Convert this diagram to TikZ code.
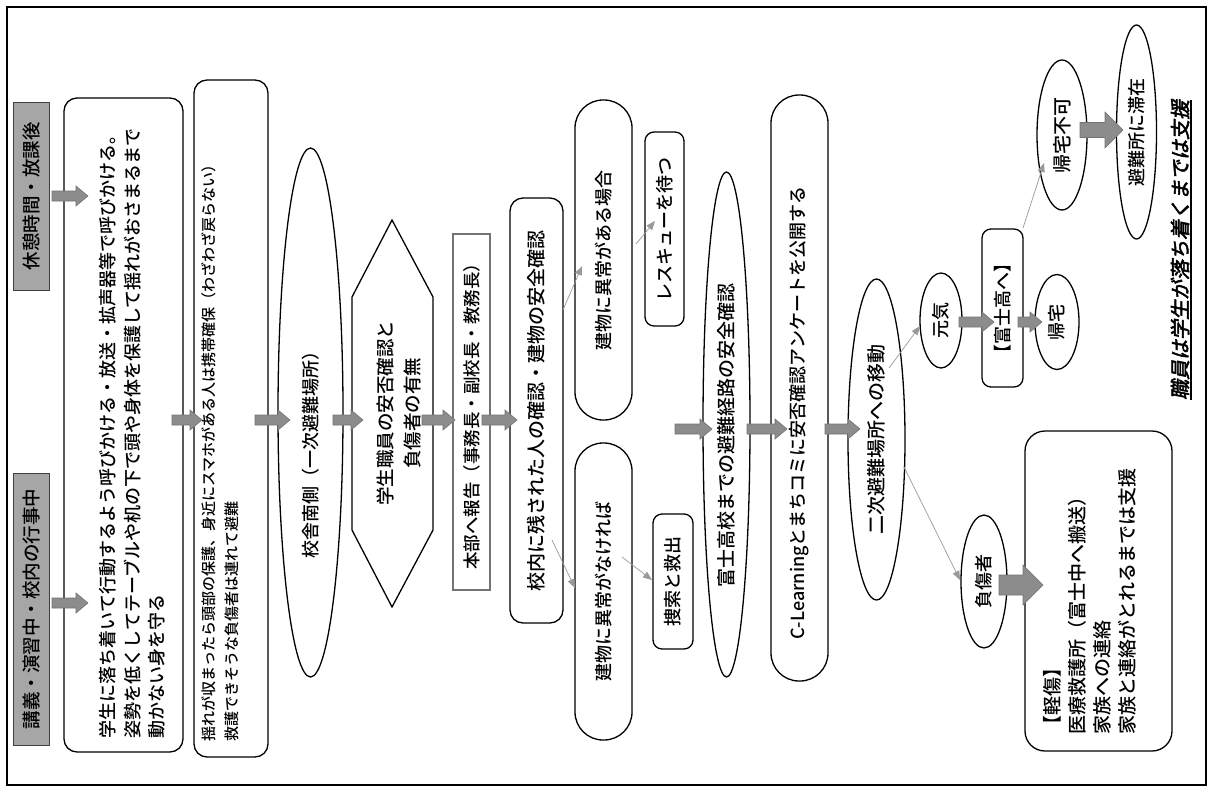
\documentclass[tikz,border=0pt]{standalone}
\usepackage{fontspec}
\setmainfont{Noto Sans CJK JP}[UprightFont=* Medium]
\newfontfamily\notefont[FakeSlant=0.2,FakeBold=2.5]{Noto Sans CJK JP}
\usetikzlibrary{shapes.geometric,arrows.meta}

% block arrow pointing right: x-start, x-tip, y, shaft half width, head half width, head length
\newcommand{\blockarr}[6]{%
  \filldraw[barrow] (#1,#3-#4) -- (#2-#6,#3-#4) -- (#2-#6,#3-#5) -- (#2,#3)
    -- (#2-#6,#3+#5) -- (#2-#6,#3+#4) -- (#1,#3+#4) -- cycle;}

\begin{document}
\begin{tikzpicture}[x=1pt,y=-1pt,
  fs/.style={font=\fontsize{#1}{\dimexpr #1pt*13/10\relax}\selectfont},
  fsl/.style 2 args={font=\fontsize{#1}{#2}\selectfont},
  gbox/.style={draw=black!75, line width=0.9pt, fill=black!35, rotate=90, inner sep=0pt, fs=18.5},
  rbox/.style={draw, line width=1.3pt, rounded corners=13pt, rotate=90, inner sep=0pt},
  oval/.style={ellipse, draw, line width=1.3pt, rotate=90, inner sep=0pt},
  pill/.style={draw, line width=1.3pt, rotate=90, inner sep=0pt, rounded corners=28pt},
  plainbox/.style={draw=black!55, line width=1.2pt, rotate=90, inner sep=0pt},
  txt/.style={rotate=90, inner sep=0pt},
  barrow/.style={fill=black!45, draw=black!55, line width=0.6pt},
  tarrow/.style={draw=black!40, line width=0.7pt, -{Triangle[length=9pt,width=7pt,fill=black!40]}}]

\useasboundingbox (0,0) rectangle (1215,798);
\draw[line width=2pt] (7,7) rectangle (1206,785);

% starting situations
\node[gbox, minimum width=188pt, minimum height=36pt] (brk) at (31,196) {休憩時間・放課後};
\node[gbox, minimum width=272pt, minimum height=36pt] (lec) at (31,609) {講義・演習中・校内の行事中};

% first reactions
\node[rbox, minimum width=654pt, minimum height=119pt] (calm) at (123.5,425) {};
\node[txt, fsl={18}{24.5}, align=left, text width=626pt] (calmt) at (132.5,425)
  {学生に落ち着いて行動するよう呼びかける・放送・拡声器等で呼びかける。\\
   姿勢を低くしてテーブルや机の下で頭や身体を保護して揺れがおさまるまで\\
   動かない身を守る};
\node[rbox, minimum width=677pt, minimum height=74pt] (after) at (231,418.5) {};
\node[txt, fsl={15}{23}, align=left, text width=645pt] (aftert) at (220,418.5)
  {揺れが収まったら頭部の保護、身近にスマホがある人は携帯確保（わざわざ戻らない）\\
   救護できそうな負傷者は連れて避難};

% first evacuation site
\node[oval, minimum width=529pt, minimum height=65pt] (site1) at (310.5,412.5) {};
\node[txt, fs=18] (site1t) at (311,450) {校舎南側（一次避難場所）};

% roll call
\draw[line width=1.3pt] (392,220) -- (433,297) -- (433,530) -- (392,607) -- (352,530) -- (352,297) -- cycle;
\node[txt, fsl={18.5}{27}, align=center] (check) at (398.5,413) {学生職員の安否確認と\\負傷者の有無};

\node[plainbox, minimum width=356pt, minimum height=37pt, fs=17.5] (report) at (471.5,412) {本部へ報告（事務長・副校長・教務長）};
\node[rbox, minimum width=425pt, minimum height=53pt, fs=19] (remain) at (536.5,410.5) {校内に残された人の確認・建物の安全確認};

% building check branches
\node[pill, minimum width=320pt, minimum height=57pt, fs=18] (bad) at (603.5,260) {建物に異常がある場合};
\node[pill, minimum width=297pt, minimum height=57pt, fs=18] (good) at (603.5,591.5) {建物に異常がなければ};
\node[rbox, rounded corners=9pt, minimum width=194pt, minimum height=39pt, fs=18] (rescue) at (664.5,229) {レスキューを待つ};
\node[rbox, rounded corners=9pt, minimum width=135pt, minimum height=40pt, fs=18] (search) at (673,581.5) {捜索と救出};

% route and announcement
\node[oval, minimum width=505pt, minimum height=47pt] (route) at (726.5,424.5) {};
\node[txt, fs=19] (routet) at (726.5,435) {富士高校までの避難経路の安全確認};
\node[pill, minimum width=586pt, minimum height=57pt] (notice) at (799.5,388) {};
\node[txt, fs=18] (noticet) at (799.5,413) {C-Learningとまちコミに安否確認アンケートを公開する};
\node[oval, minimum width=321pt, minimum height=57pt, fs=19] (site2) at (876.5,439.5) {二次避難場所への移動};

% after second evacuation
\node[oval, minimum width=95pt, minimum height=42pt, fs=18] (fine) at (941,320.5) {元気};
\node[rbox, rounded corners=9pt, minimum width=158pt, minimum height=41pt, fs=18] (fuji) at (1002.5,308) {【富士高へ】};
\node[oval, minimum width=95pt, minimum height=44pt, fs=18] (home) at (1057,322) {帰宅};
\node[oval, minimum width=150pt, minimum height=50pt, fs=19] (nohome) at (1062,135) {帰宅不可};
\node[oval, minimum width=214pt, minimum height=40pt, fs=18] (stay) at (1136.5,132) {避難所に滞在};
\node[oval, minimum width=133pt, minimum height=46pt, fs=18] (hurt) at (984,581.5) {負傷者};
\node[rbox, rounded corners=20pt, minimum width=320pt, minimum height=147pt] (minor) at (1098.5,591) {};
\node[txt, fsl={19}{25}, align=left, text width=286pt] (minort) at (1090,591)
  {【軽傷】\\医療救護所（富士中へ搬送）\\家族への連絡\\家族と連絡がとれるまでは支援};

\node[txt, fs=20] (staff) at (1180,250) {\notefont 職員は学生が落ち着くまでは支援};
\draw[line width=2pt] ([xshift=1.5pt]staff.south west) -- ([xshift=1.5pt]staff.south east);

% thick flow arrows
\blockarr{52}{88}{196}{5}{10}{12}
\blockarr{52}{88}{603}{5}{10}{12}
\blockarr{172}{202}{420}{5}{10}{12}
\blockarr{255}{290}{420}{5}{10}{12}
\blockarr{333}{363}{420}{5}{10}{12}
\blockarr{422}{455}{420}{5}{10}{12}
\blockarr{482}{517}{420}{5}{10}{12}
\blockarr{675}{712}{429}{5}{10}{12}
\blockarr{747}{787}{429}{5}{10}{12}
\blockarr{825}{860}{429}{5}{10}{12}
\blockarr{959}{994}{322}{5}{10}{12}
\blockarr{1018}{1042}{322}{5}{10}{12}
\blockarr{1080}{1123}{130}{7.5}{18}{18}
\blockarr{999}{1043}{585}{10}{20}{20}

% thin branch arrows
\coordinate (r1) at (563,310);  \coordinate (b1) at (582,266);
\coordinate (r2) at (552,540);  \coordinate (g1) at (575,588);
\coordinate (b2) at (636,244);  \coordinate (rs) at (655,221);
\coordinate (g2) at (622,557);  \coordinate (sr) at (652,580);
\coordinate (s1) at (889,368);  \coordinate (f1) at (920,326);
\coordinate (s2) at (904,467);  \coordinate (h1) at (960,580);
\coordinate (k1) at (1023,228); \coordinate (n1) at (1044,163);
\draw[tarrow] (r1) -- (b1);
\draw[tarrow] (r2) -- (g1);
\draw[tarrow] (b2) -- (rs);
\draw[tarrow] (g2) -- (sr);
\draw[tarrow] (s1) -- (f1);
\draw[tarrow] (s2) -- (h1);
\draw[tarrow] (k1) -- (n1);
\end{tikzpicture}
\end{document}
